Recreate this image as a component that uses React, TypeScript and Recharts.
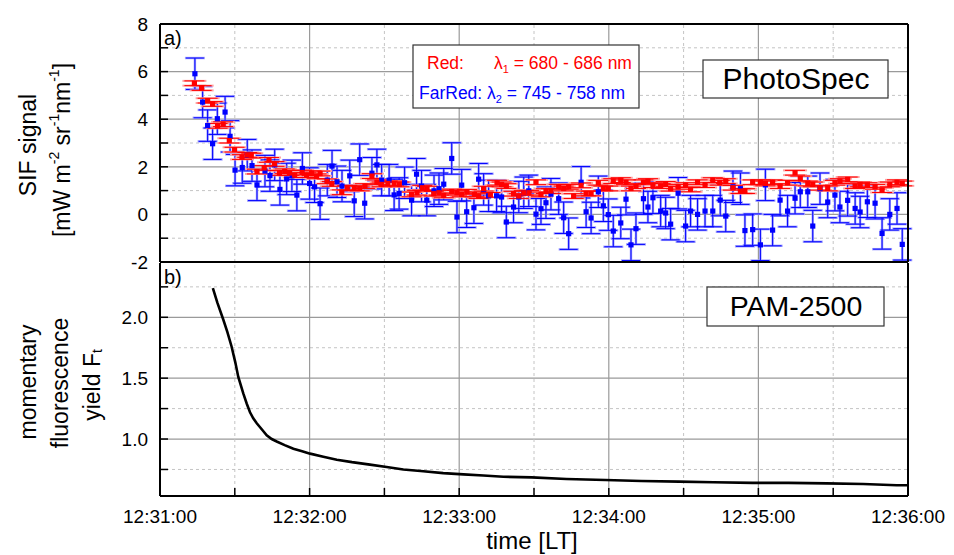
import React from 'react';
import { ScatterChart, Scatter, LineChart, Line, XAxis, YAxis, ErrorBar, ReferenceLine } from 'recharts';

// time in seconds after 12:31:00
const redTime = [13.8,16.7,19.1,21.1,23.1,25.3,27.8,29.9,32.9,35.0,36.6,38.9,41.8,43.7,45.9,47.9,50.0,51.9,54.0,57.0,58.8,60.8,62.8,64.2,67.0,68.9,72.9,75.1,77.9,80.1,82.2,85.0,87.0,88.9,91.4,93.9,96.0,100.9,103.1,105.2,107.1,109.8,111.9,113.8,117.0,119.1,121.0,123.1,126.1,127.8,129.8,132.5,135.2,137.0,138.9,141.8,143.9,145.9,148.0,150.8,152.8,154.8,156.8,159.9,161.9,163.9,165.9,168.9,170.9,172.9,175.8,177.8,179.8,181.8,184.8,186.9,188.9,190.9,193.9,195.7,197.7,200.8,202.8,204.8,207.8,210.8,212.8,215.6,218.6,221.7,224.5,226.9,229.8,232.8,234.6,237.7,240.8,242.8,245.7,248.7,251.7,254.7,256.8,259.8,261.8,264.7,267.8,270.7,272.7,275.8,278.8,280.8,283.7,286.8,289.6,292.7,295.6,297.7];
const redSif = [5.51,5.31,4.78,4.64,3.72,3.79,3.10,2.72,2.41,2.50,2.47,1.80,1.95,2.29,2.12,1.74,1.81,1.74,1.65,1.76,1.65,1.73,1.60,1.72,1.39,1.28,0.93,1.12,1.10,1.09,1.19,1.61,1.35,1.26,1.30,1.30,1.26,0.84,0.91,1.12,1.08,0.87,0.91,0.80,0.96,0.91,0.84,0.95,0.84,0.77,1.08,0.82,1.33,1.26,1.19,0.87,0.77,0.91,0.91,1.35,0.84,0.98,0.98,1.16,1.09,1.16,0.77,1.22,0.88,0.88,1.33,1.09,1.09,1.40,1.44,1.35,1.09,1.19,1.35,1.40,1.23,1.19,1.28,1.08,1.16,1.23,1.05,1.35,1.23,1.44,1.33,1.40,1.12,0.98,0.98,1.35,1.35,1.30,1.35,1.19,1.33,1.75,1.51,1.30,1.26,1.12,1.09,1.33,1.40,1.47,1.19,1.26,1.23,1.16,1.02,1.26,1.35,1.30];
const RED_ERR = 0.1;

const blueTime = [14.0,17.1,19.1,21.1,23.0,26.1,28.1,30.1,33.0,35.0,36.9,38.9,42.1,44.1,46.0,48.1,50.8,52.9,54.9,57.1,60.0,62.0,64.2,67.1,69.0,71.0,73.0,76.1,77.9,80.1,82.1,85.0,87.0,88.9,91.9,93.9,95.9,98.1,100.9,102.9,104.9,107.0,109.9,111.9,113.8,117.0,119.1,121.0,123.0,125.9,127.8,129.8,131.8,135.0,137.0,138.9,141.8,143.9,145.9,147.9,150.8,152.8,154.8,156.8,159.9,161.9,163.9,168.9,170.9,172.9,175.8,177.8,179.8,181.8,184.8,186.9,188.9,190.9,193.9,195.7,197.7,200.8,202.8,204.8,207.8,210.8,212.8,215.6,218.6,221.7,224.7,226.9,229.8,232.8,234.6,237.7,240.8,242.8,245.7,248.7,251.7,254.7,256.8,259.8,261.8,264.7,267.8,270.7,272.7,275.8,278.8,280.8,283.7,286.8,289.6,292.7,295.6,297.7];
const blueSif = [5.91,4.72,3.73,2.97,4.02,4.30,3.28,1.86,1.97,2.49,2.05,1.24,1.82,1.63,2.08,1.05,1.49,1.62,0.81,1.93,1.30,1.16,0.45,1.44,2.03,1.37,1.19,1.62,0.57,2.30,0.47,1.73,2.08,1.44,1.44,0.82,0.88,1.33,0.60,1.69,1.19,0.60,0.99,1.08,1.27,2.35,-0.11,1.23,0.11,0.28,1.48,1.05,0.78,0.78,0.73,-0.32,0.31,0.73,0.91,0.99,0.01,0.24,0.49,0.85,0.66,-0.14,-0.81,1.35,0.11,-0.15,0.95,0.36,-0.01,-0.70,-0.36,0.64,-1.28,-0.60,0.66,0.31,0.70,0.14,0.06,-0.41,0.89,-0.49,0.14,0.0,0.14,0.14,0.60,-0.07,1.16,1.08,-0.68,-0.64,-1.28,1.24,-0.66,0.60,0.14,0.68,0.95,0.95,-0.49,1.08,0.52,0.81,0.31,0.59,0.25,0.10,0.53,0.47,-0.80,0.0,0.25,-1.26];
const BLUE_ERR = 0.66;

const ftTime = [21.2,23.0,25.4,27.0,28.7,30.2,31.4,33.4,34.8,36.1,37.4,38.8,40.8,42.8,44.8,46.8,50.0,53.5,57.0,60.2,65.5,70.9,77.0,84.2,90.9,97.6,105.6,113.6,121.7,129.7,137.7,149.1,163.0,178.6,193.0,208.2,222.0,237.6,252.0,267.4,282.0,295.5,300.0];
const ftYield = [2.24,2.12,1.98,1.88,1.76,1.63,1.51,1.375,1.29,1.22,1.17,1.13,1.08,1.03,1.00,0.98,0.95,0.92,0.90,0.88,0.855,0.83,0.81,0.79,0.77,0.75,0.735,0.72,0.71,0.70,0.69,0.685,0.672,0.663,0.655,0.65,0.645,0.64,0.64,0.636,0.63,0.62,0.62];

const xTicks = [0,30,60,90,120,150,180,210,240,270,300];
const xTickLabels: Record<number, string> = { 0: '12:31:00', 60: '12:32:00', 120: '12:33:00', 180: '12:34:00', 240: '12:35:00', 300: '12:36:00' };
const xMajorGrid = [60,120,180,240];
const xMinorGrid = [30,90,150,210,270];

const sifTicks = [-2,-1,0,1,2,3,4,5,6,7,8];
const sifTickLabels: Record<string, string> = { '-2': '-2', '0': '0', '2': '2', '4': '4', '6': '6', '8': '8' };
const sifMajorGrid = [0,2,4,6];
const sifMinorGrid = [-1,1,3,5,7];

const ftTicks = [0.75,1.0,1.25,1.5,1.75,2.0,2.25];
const ftTickLabels: Record<string, string> = { '1': '1.0', '1.5': '1.5', '2': '2.0' };
const ftMajorGrid = [1.0,1.5,2.0];
const ftMinorGrid = [0.75,1.25,1.75,2.25];

const redData = redTime.map((t, i) => ({ t, v: redSif[i], e: RED_ERR }));
const blueData = blueTime.map((t, i) => ({ t, v: blueSif[i], e: BLUE_ERR }));
const ftData = ftTime.map((t, i) => ({ t, f: ftYield[i] }));

const FONT = '"Liberation Sans", Arial, Helvetica, sans-serif';
const tickStyle = { fontSize: 19, fill: '#000', fontFamily: FONT };
const MAJOR = '#9a9a9a';
const MINOR = '#c4c4c4';
const AXIS = { stroke: '#000', strokeWidth: 2 };
const TICK = { stroke: '#000', strokeWidth: 1.5 };

const square = (color: string) => (props: any) => {
  const { cx, cy } = props;
  if (cx == null || cy == null) return <g />;
  return <rect x={cx - 2.6} y={cy - 2.6} width={5.2} height={5.2} fill={color} />;
};

export default function App() {
  return (
    <div style={{ position: 'absolute', left: 0, top: 0, width: 954, height: 555, background: '#fff', fontFamily: FONT }}>
      <div style={{ position: 'absolute', left: 0, top: 262 }}>
        <LineChart width={954} height={293} data={ftData} margin={{ top: 0, right: 45, bottom: 0, left: 100 }}>
          <XAxis xAxisId={0} dataKey="t" type="number" domain={[0, 300]} ticks={xTicks} height={59} tickSize={-8} tickMargin={22} interval={0}
            tickFormatter={(v: any) => xTickLabels[v] ?? ''} tick={tickStyle}
            axisLine={AXIS} tickLine={TICK} allowDataOverflow />
          <XAxis xAxisId="top" orientation="top" type="number" domain={[0, 300]} ticks={xTicks} tick={false} interval={0}
            height={1} tickSize={-8} axisLine={false} tickLine={TICK} allowDataOverflow />
          <YAxis yAxisId={0} type="number" domain={[0.532, 2.446]} ticks={ftTicks} width={60} tickSize={-8} tickMargin={20} interval={0}
            tickFormatter={(v: any) => ftTickLabels[String(v)] ?? ''} tick={tickStyle}
            axisLine={AXIS} tickLine={TICK} allowDataOverflow />
          <YAxis yAxisId="r" orientation="right" type="number" domain={[0.532, 2.446]} ticks={ftTicks} width={1} tickSize={-8} tick={false} interval={0}
            axisLine={AXIS} tickLine={TICK} allowDataOverflow />
          {ftMinorGrid.map((y) => (
            <ReferenceLine key={'ym' + y} y={y} stroke={MINOR} strokeDasharray="3 3" strokeWidth={1} />
          ))}
          {ftMajorGrid.map((y) => (
            <ReferenceLine key={'yM' + y} y={y} stroke={MAJOR} strokeWidth={1.2} />
          ))}
          {xMinorGrid.map((x) => (
            <ReferenceLine key={'xm' + x} x={x} stroke={MINOR} strokeDasharray="3 3" strokeWidth={1} />
          ))}
          {xMajorGrid.map((x) => (
            <ReferenceLine key={'xM' + x} x={x} stroke={MAJOR} strokeWidth={1.2} />
          ))}
          <Line dataKey="f" type="linear" stroke="#000" strokeWidth={2.6} dot={false} isAnimationActive={false} />
        </LineChart>
      </div>
      <div style={{ position: 'absolute', left: 0, top: 0 }}>
        <ScatterChart width={954} height={280} margin={{ top: 23, right: 45, bottom: 17, left: 100 }}>
          <XAxis xAxisId={0} dataKey="t" type="number" domain={[0, 300]} ticks={xTicks} tick={false} interval={0}
            height={1} tickSize={-8} axisLine={AXIS} tickLine={TICK} allowDataOverflow />
          <XAxis xAxisId="top" orientation="top" type="number" domain={[0, 300]} ticks={xTicks} tick={false} interval={0}
            height={1} tickSize={-8} axisLine={AXIS} tickLine={TICK} allowDataOverflow />
          <YAxis yAxisId={0} dataKey="v" type="number" domain={[-2, 8]} ticks={sifTicks} width={60} tickSize={-8} tickMargin={20} interval={0}
            tickFormatter={(v: any) => sifTickLabels[String(v)] ?? ''} tick={tickStyle}
            axisLine={AXIS} tickLine={TICK} allowDataOverflow />
          <YAxis yAxisId="r" orientation="right" type="number" domain={[-2, 8]} ticks={sifTicks} width={1} tickSize={-8} tick={false} interval={0}
            axisLine={AXIS} tickLine={TICK} allowDataOverflow />
          {sifMinorGrid.map((y) => (
            <ReferenceLine key={'ym' + y} y={y} stroke={MINOR} strokeDasharray="3 3" strokeWidth={1} />
          ))}
          {sifMajorGrid.map((y) => (
            <ReferenceLine key={'yM' + y} y={y} stroke={MAJOR} strokeWidth={1.2} />
          ))}
          {xMinorGrid.map((x) => (
            <ReferenceLine key={'xm' + x} x={x} stroke={MINOR} strokeDasharray="3 3" strokeWidth={1} />
          ))}
          {xMajorGrid.map((x) => (
            <ReferenceLine key={'xM' + x} x={x} stroke={MAJOR} strokeWidth={1.2} />
          ))}
          <Scatter data={blueData} dataKey="v" isAnimationActive={false} shape={square('#0000ff')}>
            <ErrorBar dataKey="e" direction="y" width={10} stroke="#a0a0ff" strokeWidth={2.4} />
            <ErrorBar dataKey="e" direction="y" width={9} stroke="#0000ff" strokeWidth={1} />
          </Scatter>
          <Scatter data={redData} dataKey="v" isAnimationActive={false} shape={square('#ff0000')}>
            <ErrorBar dataKey="e" direction="y" width={12} stroke="#ffa0a0" strokeWidth={2} />
            <ErrorBar dataKey="e" direction="y" width={10} stroke="#ff0000" strokeWidth={1} />
          </Scatter>
        </ScatterChart>
      </div>
      <svg width={954} height={555} style={{ position: 'absolute', left: 0, top: 0, pointerEvents: 'none' }} fontFamily={FONT}>
        <text x={164} y={45} fontSize={20} fill="#000">a)</text>
        <text x={164} y={284} fontSize={20} fill="#000">b)</text>
        <rect x={413} y={45} width={226} height={63} fill="#fff" stroke="#333" strokeWidth={1.2} />
        <text x={427} y={69} fontSize={17.5} fill="#ff0000">Red:</text>
        <text x={494} y={69} fontSize={17.5} fill="#ff0000">λ<tspan fontSize={11} dy={4}>1</tspan><tspan dy={-4}> = 680 - 686 nm</tspan></text>
        <text x={419} y={99} fontSize={17.5} fill="#0000ff">FarRed: λ<tspan fontSize={11} dy={4}>2</tspan><tspan dy={-4}> = 745 - 758 nm</tspan></text>
        <rect x={703} y={60} width={185} height={38} fill="#fff" stroke="#333" strokeWidth={1.2} />
        <text x={796} y={89} fontSize={30} textAnchor="middle" fill="#000">PhotoSpec</text>
        <rect x={707} y={287} width={177} height={39} fill="#fff" stroke="#333" strokeWidth={1.2} />
        <text x={796} y={316} fontSize={28.5} textAnchor="middle" fill="#000">PAM-2500</text>
        <text x={532} y={549} fontSize={24} textAnchor="middle" fill="#000">time [LT]</text>
        <text transform="translate(28,145) rotate(-90)" fontSize={23} textAnchor="middle" dominantBaseline="central" fill="#000">SIF signal</text>
        <text transform="translate(62,150) rotate(-90)" fontSize={23} textAnchor="middle" dominantBaseline="central" fill="#000">
          [mW m<tspan fontSize={14} dy={-8}>-2</tspan><tspan dy={8}> sr</tspan><tspan fontSize={14} dy={-8}>-1</tspan><tspan dy={8}>nm</tspan><tspan fontSize={14} dy={-8}>-1</tspan><tspan dy={8}>]</tspan>
        </text>
        <text transform="translate(28,382) rotate(-90)" fontSize={23} textAnchor="middle" dominantBaseline="central" fill="#000">momentary</text>
        <text transform="translate(60,383) rotate(-90)" fontSize={23} textAnchor="middle" dominantBaseline="central" fill="#000">fluorescence</text>
        <text transform="translate(92,385) rotate(-90)" fontSize={23} textAnchor="middle" dominantBaseline="central" fill="#000">
          yield F<tspan fontSize={14} dy={5}>t</tspan>
        </text>
      </svg>
    </div>
  );
}
